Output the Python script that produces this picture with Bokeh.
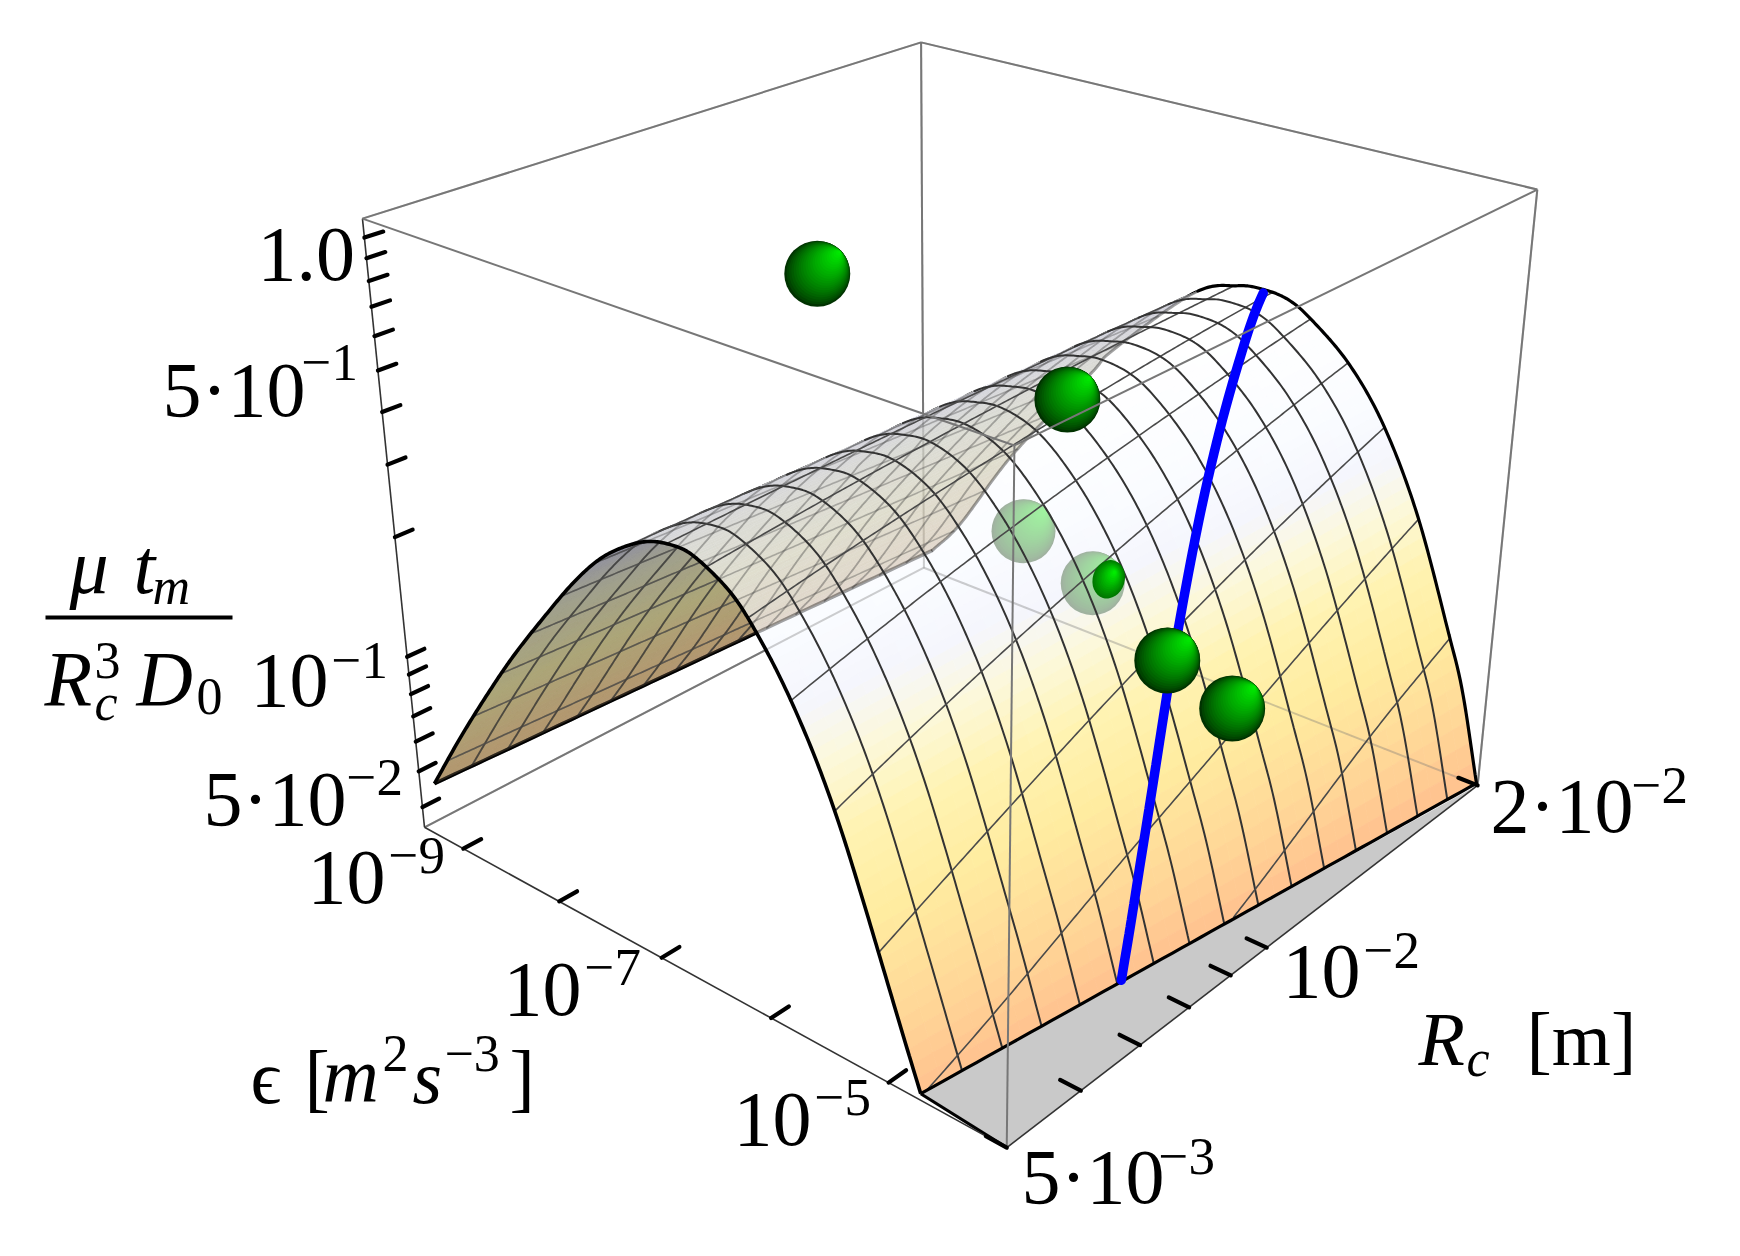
import numpy as np
from bokeh.plotting import figure
from bokeh.embed import file_html
from bokeh.resources import INLINE
from bokeh.core.properties import value

# ---- chart values ----
z_ticks = [1.0, 0.9, 0.8, 0.7, 0.6, 0.5, 0.4, 0.3, 0.2, 0.1, 0.09, 0.08, 0.07, 0.06, 0.05, 0.04]
eps_ticks_log = [-9, -8, -7, -6, -5]
R_ticks = [5e-3, 6e-3, 7e-3, 8e-3, 9e-3, 1e-2, 2e-2]
R_lim = (5e-3, 2e-2)
eps_log_lim = (-9.424, -4.062)
z_log_lim = (-1.453, 0.0418)

# arch of the surface at R = 5e-3 and at R = 2e-2
arch_lo_logeps = [-9.258, -8.915, -8.577, -8.271, -7.939, -7.622, -7.349, -7.092, -6.882, -6.684, -6.528, -6.314, -6.153, -5.992, -5.831, -5.671, -5.510, -5.349, -5.188, -5.027, -4.866, -4.738]
arch_lo_value = [0.0487, 0.0714, 0.1017, 0.1377, 0.1858, 0.2438, 0.2967, 0.338, 0.3635, 0.3737, 0.3711, 0.3477, 0.3213, 0.2828, 0.2422, 0.2011, 0.1614, 0.1238, 0.0908, 0.0655, 0.0472, 0.0366]
arch_hi_logeps = [-9.327, -9.016, -8.459, -7.697, -7.494, -6.764, -6.378, -6.153, -5.939, -5.735, -5.397, -5.075, -4.743, -4.411, -4.255, -4.073]
arch_hi_value = [0.04087, 0.05327, 0.0976, 0.1936, 0.2332, 0.3815, 0.4288, 0.4378, 0.4303, 0.3993, 0.3301, 0.2464, 0.1559, 0.0831, 0.0601, 0.0356]

# blue curve on the surface
blue_R = [0.01972, 0.01723, 0.01464, 0.01336, 0.01228, 0.01084, 0.01005, 0.00925, 0.00836, 0.00779]
blue_eps_log = [-6.116, -5.880, -5.601, -5.445, -5.301, -5.086, -4.957, -4.813, -4.641, -4.528]

# measured points
sphere_R = [8.2e-3, 0.01618, 0.01296, 0.01453]
sphere_eps_log = [-7.279, -7.279, -5.671, -5.4025]
sphere_value = [0.819, 0.2199, 0.0848, 0.0589]
faded_R = [0.01551, 0.01483]
faded_eps_log = [-7.547, -6.743]
faded_value = [0.0950, 0.0877]

n_mesh = 16

# ---- camera: box corners on the page ----
corners = [((0,0,0),(424,827)),((0,1,0),(1007,1147)),((1,1,0),(1477,785)),((1,0,0),(923,567)),
           ((0,0,1),(362,218)),((0,1,1),(1013,445)),((1,1,1),(1537,189)),((1,0,1),(921,42))]
A=[];b=[]
for (X,x) in corners:
    v_,u_,z_=X
    A.append([v_,u_,z_,1,0,0,0,0,-x[0]*v_,-x[0]*u_,-x[0]*z_]);b.append(x[0])
    A.append([0,0,0,0,v_,u_,z_,1,-x[1]*v_,-x[1]*u_,-x[1]*z_]);b.append(x[1])
P=np.append(np.linalg.lstsq(np.array(A,float),np.array(b,float),rcond=None)[0],1).reshape(3,4)

def proj(v,u,z):
    v,u,z=np.broadcast_arrays(np.asarray(v,float),np.asarray(u,float),np.asarray(z,float))
    h=np.stack([v,u,z,np.ones_like(v)],-1)@P.T
    return h[...,0]/h[...,2],h[...,1]/h[...,2]
def V(R): return np.log10(np.asarray(R)/R_lim[0])/np.log10(R_lim[1]/R_lim[0])
def U(le): return (np.asarray(le)-eps_log_lim[0])/(eps_log_lim[1]-eps_log_lim[0])
def Z(t): return (np.log10(t)-z_log_lim[0])/(z_log_lim[1]-z_log_lim[0])

def smooth(a,b,n=12):
    a=np.asarray(a);b=np.asarray(b)
    pts=np.stack([a,b],1)
    pts=np.vstack([2*pts[0]-pts[1],pts,2*pts[-1]-pts[-2]])
    out=[]
    for i in range(1,len(pts)-2):
        for t in np.linspace(0,1,n,endpoint=False):
            p0,p1,p2,p3=pts[i-1:i+3]
            out.append(.5*((2*p1)+(-p0+p2)*t+(2*p0-5*p1+4*p2-p3)*t*t+(-p0+3*p1-3*p2+p3)*t**3))
    out.append(pts[-2])
    out=np.array(out);return out[:,0],out[:,1]

u0f,z0f=smooth(U(arch_lo_logeps),Z(arch_lo_value))
u1f,z1f=smooth(U(arch_hi_logeps),Z(arch_hi_value))
S=np.linspace(0,1,401)
s0=(u0f-u0f[0])/(u0f[-1]-u0f[0]); s1=(u1f-u1f[0])/(u1f[-1]-u1f[0])
Z0=np.interp(S,s0,z0f); Z1=np.interp(S,s1,z1f)
def surf(s,v):
    s=np.asarray(s,float);v=np.asarray(v,float)
    u=(1-v)*(u0f[0]+s*(u0f[-1]-u0f[0]))+v*(u1f[0]+s*(u1f[-1]-u1f[0]))
    z=(1-v)*np.interp(s,S,Z0)+v*np.interp(s,S,Z1)
    return u,z
def sxy(s,v):
    u,z=surf(s,v);return proj(v,u,z)
def s_of(u,v):
    a=(1-v)*u0f[0]+v*u1f[0];b2=(1-v)*u0f[-1]+v*u1f[-1]
    return (u-a)/(b2-a)
def facing(s,v):
    d=1e-3
    x,y=sxy(s,v);x1,y1=sxy(s+d,v);x2,y2=sxy(s,v+d)
    return (x1-x)*(y2-y)-(y1-y)*(x2-x)
front_sign=np.sign(facing(np.array(.9),np.array(.5)))
def is_front(s,v): return np.sign(facing(s,v))==front_sign

def hexc(c): return "#%02x%02x%02x"%tuple(int(round(x)) for x in c)
front_stops_z=[0,.10,.25,.36,.45,.52,.60,.72,1]
front_stops=np.array([(255,192,142),(255,212,150),(255,236,160),(255,243,178),(252,248,218),(245,246,253),(250,252,255),(255,255,255),(255,255,255)],float)
back_stops_z=[0,.12,.3,.5,.66,.75]
back_stops=np.array([(180,150,115),(178,152,112),(172,165,120),(160,160,140),(140,140,165),(125,125,160)],float)
def col(stops_z,stops,z):
    return hexc([np.interp(z,stops_z,stops[:,k]) for k in range(3)])

p=figure(width=1724,height=1240,x_range=(0,1724),y_range=(1240,0),toolbar_location=None,output_backend="svg",min_border=0)
p.axis.visible=False;p.grid.visible=False;p.outline_line_color=None
p.background_fill_color="white"

BOX="#777777"
def edge(a,b,color=BOX,w=2,alpha=1):
    x,y=proj(*np.array([a,b]).T);p.line(x,y,line_color=color,line_width=w,line_alpha=alpha)
back_edges=[((0,0,1),(1,0,1)),((1,0,1),(1,1,1)),((1,0,0),(1,0,1)),((0,0,0),(1,0,0)),((1,0,0),(1,1,0)),((1,1,0),(1,1,1))]
for a,b_ in back_edges: edge(a,b_)

# surface quads
ns,nv=130,32
sg=np.linspace(0,1,ns+1);vg=np.linspace(0,1,nv+1)
SS,VV=np.meshgrid(sg,vg,indexing="ij")
GX,GY=sxy(SS,VV)
fx,fy,fc,bx,by,bc=[],[],[],[],[],[]
for i in range(ns):
    for j in range(nv):
        xs=[float(GX[i,j]),float(GX[i+1,j]),float(GX[i+1,j+1]),float(GX[i,j+1])]
        ys=[float(GY[i,j]),float(GY[i+1,j]),float(GY[i+1,j+1]),float(GY[i,j+1])]
        sm=(sg[i]+sg[i+1])/2;vm=(vg[j]+vg[j+1])/2
        zm=float(surf(np.array(sm),np.array(vm))[1])
        if is_front(np.array(sm),np.array(vm)):
            fx.append(xs);fy.append(ys);fc.append(col(front_stops_z,front_stops,zm))
        else:
            bx.append(xs);by.append(ys);bc.append(col(back_stops_z,back_stops,zm))

def arch_line(v,n=300):
    s=np.linspace(0,1,n);x,y=sxy(s,np.full(n,v));f=is_front(np.minimum(s,.999),np.full(n,min(v,.999)))
    return x,y,f
def eps_line(um,n=200):
    vv=np.linspace(0,1,n)
    s=s_of(um,vv);ok=(s>=0)&(s<=1)
    s=s[ok];vv=vv[ok]
    x,y=sxy(s,vv);f=is_front(np.minimum(s,.999),np.minimum(vv,.999))
    return x,y,f
def split(x,y,f,want):
    segs=[];cur=[]
    for a,b_,c in zip(x,y,f):
        if c==want: cur.append((a,b_))
        else:
            if len(cur)>1: segs.append(cur)
            cur=[]
    if len(cur)>1: segs.append(cur)
    return segs
def draw_segs(segs,color,w,alpha=1):
    for sg_ in segs:
        a=np.array(sg_);p.line(a[:,0],a[:,1],line_color=color,line_width=w,line_alpha=alpha,line_cap="round")

def back_content(alpha,overlay):
    if overlay:
        p.patches(bx,by,fill_color=bc,fill_alpha=alpha,line_alpha=0)
    else:
        p.patches(bx,by,fill_color=bc,line_color=bc,line_width=.8)
    for i in range(1,n_mesh):
        x,y,f=arch_line(i/n_mesh);draw_segs(split(x,y,f,False),"#333333",1.8,alpha)
        x,y,f=eps_line(i/n_mesh);draw_segs(split(x,y,f,False),"#444444",1.6,alpha)
    vv=np.linspace(0,1,60);x,y=sxy(np.zeros(60),vv)
    p.line(x,y,line_color="black",line_width=3.5,line_alpha=alpha)
    x,y,f=arch_line(1.0);draw_segs(split(x,y,f,False),"black",3,alpha)

back_content(1,False)
p.patches(fx,fy,fill_color=fc,line_color=fc,line_width=.8)
for a,b_ in back_edges: edge(a,b_,alpha=.36)
back_content(.36,True)

# faded spheres (seen through the surface)
N=24
def sphere(cx,cy,r,mix=None):
    xs,ys,rs,cs=[],[],[],[]
    for k in range(N):
        t=k/(N-1)
        xs.append(cx+.67*r*t);ys.append(cy-.65*r*t);rs.append(r*(1-.97*t))
        c=np.array([0,50+185*t**.75,0])
        if mix: c=.64*np.array([250,250,250])+.36*c
        cs.append(hexc(c))
    p.circle(xs,ys,radius=rs,fill_color=cs,line_color=None)
fx_,fy_=proj(V(faded_R),U(faded_eps_log),Z(faded_value))
for cx,cy in zip(fx_,fy_): sphere(float(cx),float(cy),32,True)

# front mesh
for i in range(1,n_mesh):
    x,y,f=arch_line(i/n_mesh);draw_segs(split(x,y,f,True),"#333333",2)
    x,y,f=eps_line(i/n_mesh);draw_segs(split(x,y,f,True),"#4a4a4a",1.6)
x,y,f=arch_line(1.0);draw_segs(split(x,y,f,True),"black",3.2)
x,y,f=arch_line(0.0);p.line(x,y,line_color="black",line_width=3.6)
vv=np.linspace(0,1,60);x,y=sxy(np.ones(60),vv)

# floor triangle and axes
bx_,by_=sxy(np.array(1.0),np.array(0.0))
c1=proj(0,1,0);c2=proj(1,1,0)
p.patch([float(bx_),float(c1[0]),float(c2[0])],[float(by_),float(c1[1]),float(c2[1])],fill_color="#c9c9c9",line_color=None)
p.line(x,y,line_color="black",line_width=3.2)
p.line([float(bx_),float(c1[0])],[float(by_),float(c1[1])],line_color="black",line_width=3)
AX="#333333"
edge((0,0,0),(0,0,1),AX,1.6);edge((0,0,0),(0,1,0),AX,1.6);edge((0,1,0),(1,1,0),AX,1.6)

# blue curve on the surface
bv0=V(blue_R);bu0=U(blue_eps_log)
bv,bu=smooth(bv0,bu0)
bs=np.clip(s_of(bu,bv),0,1)
bxx,byy=sxy(bs,bv)
p.line(bxx,byy,line_color="#0000ff",line_width=9.5,line_cap="round")

# spheres on top
sx,sy=proj(V(sphere_R),U(sphere_eps_log),Z(sphere_value))
for cx,cy in zip(sx,sy): sphere(float(cx),float(cy),33)
fcx,fcy=float(fx_[1]),float(fy_[1])
for k in range(14):
    t=k/13
    p.ellipse([fcx+16+.35*16*t],[fcy-4-.35*19*t],width=[32*(1-.9*t)],height=[39*(1-.9*t)],angle=[-.3],fill_color=hexc([0,120+115*t,0]),line_color=None)

# front box edges
for a,b_ in [((0,0,1),(0,1,1)),((0,1,1),(1,1,1)),((0,1,0),(0,1,1))]: edge(a,b_)

# ticks
def ticks(pts,dvec,w=4.2):
    for q in pts:
        a=np.array(q);b2=a+np.array(dvec)
        x,y=proj(*np.array([a,b2]).T);p.line(x,y,line_color="black",line_width=w,line_cap="round")
ticks([(0,0,float(Z(t))) for t in z_ticks],(.028,0,0))
ticks([(0,float(U(e)),0) for e in eps_ticks_log],(.03,0,0))
ticks([(float(V(r)),1,0) for r in R_ticks],(0,-.03,0))

# text
F=value("Liberation Serif")
def txt(x,y,s,size=78,style="normal"):
    p.text([x],[y-.34*size],text=[s],text_font=F,text_font_size=f"{size}px",text_font_style=style,text_baseline="alphabetic",text_align="left",text_color="black")
tick_labels=[(257,281,"1.0",None,None,0),(162,416,"5·10","−1",380,-4),(250,707,"10","−1",678,0),(203,825,"5·10","−2",795,0),
 (307,904,"10","−9",873,0),(503,1016,"10","−7",985,0),(733,1146,"10","−5",1115,0),(1021,1203,"5·10","−3",1174,-6),(1282,998,"10","−2",968,0),(1490,832,"2·10","−2",803,-2)]
for x,y,b_,sup,sy_,dx in tick_labels:
    txt(x,y,b_)
    if sup:
        w=78 if b_=="10" else 78+62
        txt(x+w+3+dx,sy_,sup,53)
txt(1418,1064,"R",76,"italic");txt(1466,1076,"c",52,"italic");txt(1526,1064,"[m]",76)
txt(250,1102,"ϵ",76);txt(304,1102,"[",76);txt(322,1102,"m",78,"italic");txt(382,1071,"2",52);txt(412,1102,"s",76,"italic");txt(444,1071,"−3",52);txt(509,1102,"]",76)
txt(69,593,"μ",78,"italic");txt(133,593,"t",78,"italic");txt(152,604,"m",52,"italic")
p.line([45,232],[617,617],line_color="black",line_width=4)
txt(44,705,"R",78,"italic");txt(94,678,"3",52);txt(94,720,"c",52,"italic");txt(136,705,"D",78,"italic");txt(196,714,"0",52)

open("out.html","w").write(file_html(p,INLINE))
